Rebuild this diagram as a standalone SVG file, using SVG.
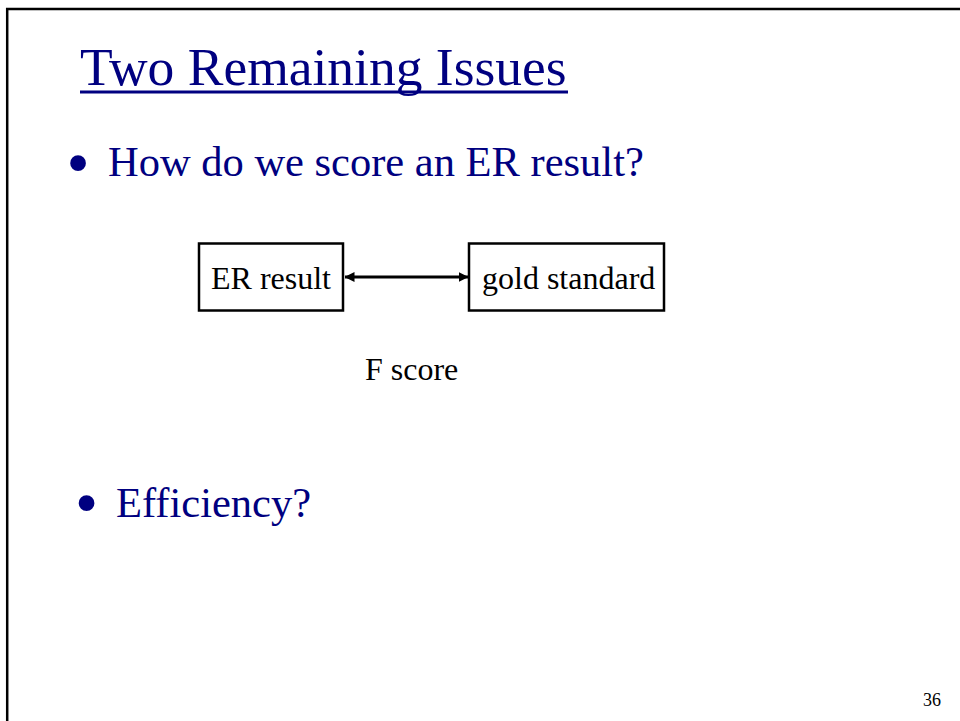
<svg xmlns="http://www.w3.org/2000/svg" width="960" height="721" viewBox="0 0 960 721">
  <style>
    .navy { fill: #000080; font-family: "Liberation Serif", "Times New Roman", serif; }
    .title { font-size: 53.5px; }
    .bullet { font-size: 42.5px; }
    .dot { font-size: 66px; }
    .label { fill: #000000; font-family: "Liberation Serif", "Times New Roman", serif; font-size: 32px; }
    .box { fill: #ffffff; stroke: #000000; stroke-width: 2.5; }
    .frame { stroke: #000000; stroke-width: 2.5; fill: none; }
  </style>
  <defs>
    <marker id="head" viewBox="0 0 10 10" refX="9.5" refY="5" markerWidth="10" markerHeight="11" orient="auto-start-reverse" markerUnits="userSpaceOnUse">
      <path d="M0,0 L10,5 L0,10 Z" fill="#000000"/>
    </marker>
  </defs>

  <rect x="0" y="0" width="960" height="721" fill="#ffffff"/>

  <!-- slide frame: top and left edges -->
  <path class="frame" d="M7.2,721 L7.2,9 L960,9"/>

  <!-- title -->
  <g id="title">
    <text class="navy title" x="80" y="85">Two Remaining Issues</text>
    <rect x="80" y="90.5" width="488" height="3" fill="#000080"/>
  </g>

  <!-- first bullet -->
  <g id="bullet-score">
    <text class="navy dot" x="78" y="185" text-anchor="middle">•</text>
    <text class="navy bullet" x="108" y="176">How do we score an ER result?</text>
  </g>

  <!-- connectors -->
  <g id="connectors">
    <line x1="345" y1="277" x2="468" y2="277" stroke="#000000" stroke-width="3" marker-start="url(#head)" marker-end="url(#head)"/>
  </g>

  <g id="node-er-result">
    <rect class="box" x="199" y="243.5" width="144" height="67"/>
    <text class="label" x="211" y="289">ER result</text>
  </g>

  <g id="node-gold-standard">
    <rect class="box" x="469" y="243.5" width="195" height="67"/>
    <text class="label" x="482" y="289">gold standard</text>
  </g>

  <g id="f-score">
    <text class="label" x="365" y="380">F score</text>
  </g>

  <!-- second bullet -->
  <g id="bullet-efficiency">
    <text class="navy dot" x="86.5" y="525" text-anchor="middle">•</text>
    <text class="navy bullet" x="116" y="517">Efficiency?</text>
  </g>

  <!-- page number -->
  <g id="page-number">
    <text class="label" x="923" y="706" style="font-size:18px">36</text>
  </g>
</svg>
